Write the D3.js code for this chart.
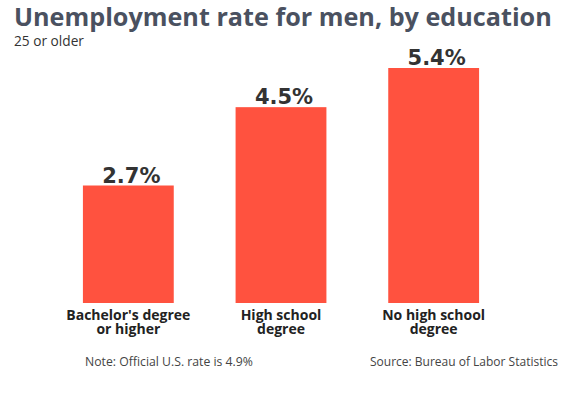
<!DOCTYPE html>
<html>
<head>
<meta charset="utf-8">
<script src="https://cdn.jsdelivr.net/npm/d3@7"></script>
<style>
  html, body { margin: 0; padding: 0; background: #fff; }
  svg { display: block; }
</style>
</head>
<body>
<svg id="chart" width="569" height="398"></svg>
<script>
const categories = ["Bachelor's degree|or higher", "High school|degree", "No high school|degree"];
const values = [2.7, 4.5, 5.4];
const valueLabels = ["2.7%", "4.5%", "5.4%"];
const title = "Unemployment rate for men, by education";
const subtitle = "25 or older";
const note = "Note: Official U.S. rate is 4.9%";
const source = "Source: Bureau of Labor Statistics";

const svg = d3.select("#chart");

function fit(sel, target) {
  const w = sel.node().getComputedTextLength();
  const fs = parseFloat(sel.attr("font-size"));
  sel.attr("font-size", (fs * target / w).toFixed(2));
}

const x = d3.scaleBand()
  .domain(categories)
  .range([52, 510])
  .paddingInner(0.405)
  .paddingOuter(0.2025);

const y = d3.scaleLinear()
  .domain([0, 5.4])
  .range([303, 68]);

// Title
const t = svg.append("text")
  .attr("x", 14).attr("y", 26)
  .attr("font-family", "'Open Sans', sans-serif")
  .attr("font-weight", 700)
  .attr("font-size", 24)
  .attr("fill", "#4a5160")
  .text(title);
fit(t, 538);

const st = svg.append("text")
  .attr("x", 14).attr("y", 46)
  .attr("font-family", "'Open Sans', sans-serif")
  .attr("font-size", 13)
  .attr("fill", "#333")
  .text(subtitle);
fit(st, 70);

// Bars
svg.append("g").selectAll("rect")
  .data(values)
  .join("rect")
  .attr("x", (d, i) => x(categories[i]))
  .attr("width", x.bandwidth())
  .attr("y", d => y(d))
  .attr("height", d => y(0) - y(d))
  .attr("fill", "#ff523f");

// Value labels
svg.append("g").selectAll("text")
  .data(values)
  .join("text")
  .attr("x", (d, i) => x(categories[i]) + x.bandwidth() / 2 + 3)
  .attr("y", d => y(d) - 3)
  .attr("text-anchor", "middle")
  .attr("font-family", "'DejaVu Sans', sans-serif")
  .attr("font-weight", 700)
  .attr("font-size", 21)
  .attr("fill", "#333")
  .text((d, i) => valueLabels[i]);

// Category labels (one text element per line)
const catLines = [];
categories.forEach(c => c.split("|").forEach((l, i) => catLines.push({ c, l, i })));
svg.append("g").selectAll("text")
  .data(catLines)
  .join("text")
  .attr("x", d => x(d.c) + x.bandwidth() / 2)
  .attr("y", d => 320 + d.i * 14)
  .attr("text-anchor", "middle")
  .attr("font-family", "'Open Sans', sans-serif")
  .attr("font-weight", 700)
  .attr("font-size", 14)
  .attr("fill", "#222")
  .text(d => d.l);

// Footer
const n = svg.append("text")
  .attr("x", 85).attr("y", 366)
  .attr("font-family", "'Open Sans', sans-serif")
  .attr("font-size", 12)
  .attr("fill", "#444")
  .text(note);
fit(n, 168);

const s = svg.append("text")
  .attr("x", 370).attr("y", 366)
  .attr("font-family", "'Open Sans', sans-serif")
  .attr("font-size", 12)
  .attr("fill", "#444")
  .text(source);
fit(s, 188);
</script>
</body>
</html>
